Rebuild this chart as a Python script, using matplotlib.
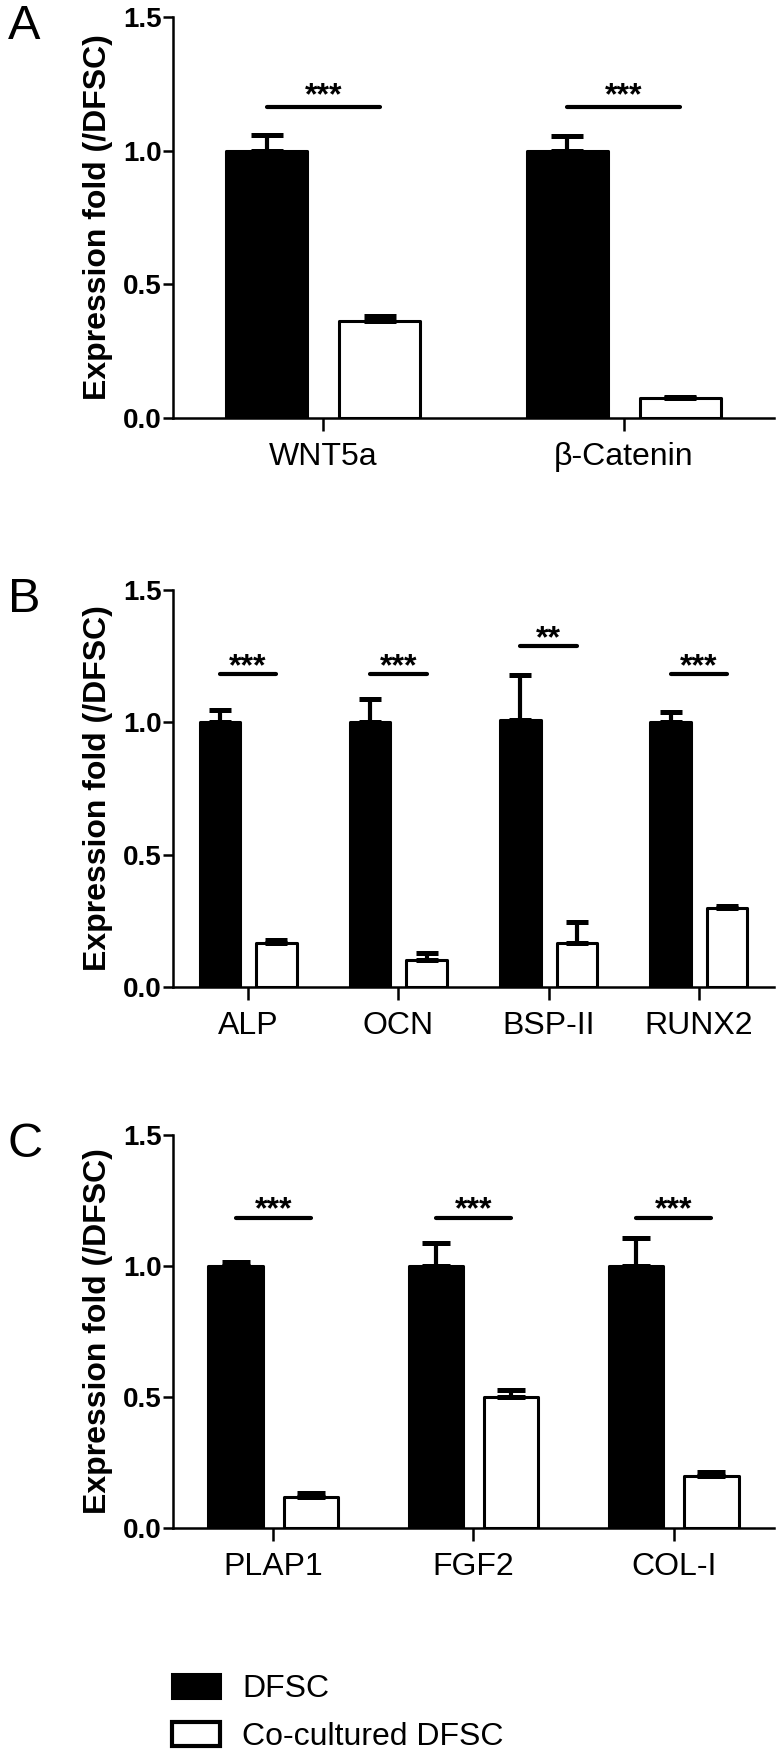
import numpy as np
import matplotlib.pyplot as plt
from matplotlib.patches import Patch

plt.rcParams['font.family'] = ['Liberation Sans', 'DejaVu Sans']

# panel A
genes_a = ["WNT5a", "β-Catenin"]
dfsc_a = [1.0, 1.0]
dfsc_err_a = [0.058, 0.053]
co_a = [0.363, 0.073]
co_err_a = [0.020, 0.004]
sig_a = ["***", "***"]
sig_y_a = [1.164, 1.164]

# panel B
genes_b = ["ALP", "OCN", "BSP-II", "RUNX2"]
dfsc_b = [1.0, 1.0, 1.01, 1.0]
dfsc_err_b = [0.046, 0.09, 0.17, 0.04]
co_b = [0.166, 0.102, 0.166, 0.297]
co_err_b = [0.012, 0.026, 0.079, 0.008]
sig_b = ["***", "***", "**", "***"]
sig_y_b = [1.183, 1.183, 1.287, 1.183]

# panel C
genes_c = ["PLAP1", "FGF2", "COL-I"]
dfsc_c = [1.0, 1.0, 1.0]
dfsc_err_c = [0.016, 0.086, 0.105]
co_c = [0.118, 0.50, 0.198]
co_err_c = [0.016, 0.028, 0.014]
sig_c = ["***", "***", "***"]
sig_y_c = [1.183, 1.183, 1.183]

yticks = [0.0, 0.5, 1.0, 1.5]

W, H = 781, 1763
fig = plt.figure(figsize=(W / 100, H / 100), dpi=100)

def px_axes(left, top, right, bottom):
    return fig.add_axes([left / W, 1 - bottom / H, (right - left) / W, (bottom - top) / H])

def draw_panel(ax, genes, dfsc, dfsc_err, co, co_err, sig, sig_y, capsize, star_off):
    n = len(genes)
    x = np.arange(n)
    w = 0.27
    off = 0.188
    ax.bar(x - off, dfsc, w, color='black', edgecolor='black', linewidth=2.2, joinstyle='round', zorder=2)
    ax.bar(x + off, co, w, color='white', edgecolor='black', linewidth=2.2, joinstyle='round', zorder=2)
    ax.errorbar(x - off, dfsc, yerr=[np.zeros(n), dfsc_err], fmt='none', ecolor='black',
                elinewidth=3, capsize=capsize, capthick=3.6, zorder=3)
    ax.errorbar(x + off, co, yerr=[np.zeros(n), co_err], fmt='none', ecolor='black',
                elinewidth=3, capsize=capsize, capthick=3.6, zorder=3)
    for i in range(n):
        ax.plot([x[i] - off, x[i] + off], [sig_y[i], sig_y[i]], color='black', lw=3,
                solid_capstyle='round')
        ax.annotate(sig[i], (x[i], sig_y[i]), xytext=(0, star_off), textcoords='offset points',
                    ha='center', va='center', fontsize=23, fontweight='bold')
    ax.set_xlim(-0.5, n - 0.5)
    ax.set_ylim(0, 1.5)
    ax.set_xticks(x)
    ax.set_xticklabels(genes, fontsize=23)
    ax.set_yticks(yticks)
    ax.set_yticklabels([f"{t:.1f}" for t in yticks], fontsize=20, fontweight='bold')
    ax.spines['top'].set_visible(False)
    ax.spines['right'].set_visible(False)
    ax.spines['left'].set_linewidth(1.8)
    ax.spines['bottom'].set_linewidth(1.8)
    ax.tick_params(axis='x', length=9, width=1.8, pad=8)
    ax.tick_params(axis='y', length=7, width=1.8, pad=1)
    ax.set_ylabel("Expression fold (/DFSC)", fontsize=23, fontweight='bold', labelpad=7)

ax_a = px_axes(173, 17, 774, 418)
draw_panel(ax_a, genes_a, dfsc_a, dfsc_err_a, co_a, co_err_a, sig_a, sig_y_a, 11.5, 7.5)
ax_b = px_axes(173, 590, 774, 987)
draw_panel(ax_b, genes_b, dfsc_b, dfsc_err_b, co_b, co_err_b, sig_b, sig_y_b, 8, 5)
ax_c = px_axes(173, 1135, 774, 1528)
draw_panel(ax_c, genes_c, dfsc_c, dfsc_err_c, co_c, co_err_c, sig_c, sig_y_c, 10, 5.5)

for letter, top in [("A", 4), ("B", 577), ("C", 1122)]:
    fig.text(8 / W, 1 - top / H, letter, fontsize=35, ha='left', va='top')

handles = [Patch(facecolor='black', edgecolor='black', linewidth=2.2),
           Patch(facecolor='white', edgecolor='black', linewidth=3)]
fig.legend(handles, ["DFSC", "Co-cultured DFSC"], loc='upper left',
           bbox_to_anchor=(172 / W, 1 - 1674 / H), frameon=False, fontsize=23,
           handlelength=1.5, handleheight=0.8, handletextpad=0.7, labelspacing=0.55,
           borderpad=0, borderaxespad=0)

fig.savefig("out.png", dpi=100)
